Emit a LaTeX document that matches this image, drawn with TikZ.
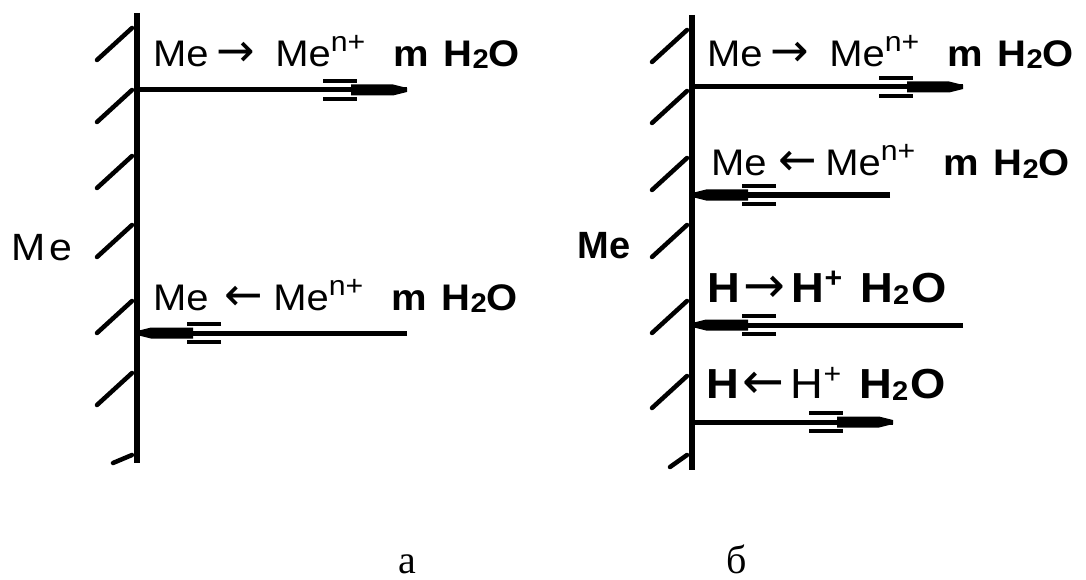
\documentclass[tikz,border=0pt]{standalone}
\usepackage{fontspec}
\setmainfont{Liberation Sans}
\newfontfamily\labfont[FakeStretch=1.08]{Liberation Sans}
\newfontfamily\arrfont{DejaVu Sans}
\newfontfamily\capfont{Liberation Serif}
\usetikzlibrary{decorations.markings}

\newcommand{\rarr}[1]{{\arrfont\fontsize{#1}{#1}\selectfont →}}
\newcommand{\larr}[1]{{\arrfont\fontsize{#1}{#1}\selectfont ←}}
\newcommand{\ion}[1]{\raisebox{15pt}{\fontsize{28}{28}\selectfont #1}}
\newcommand{\two}{\raisebox{-2pt}{\fontsize{27}{27}\selectfont 2}}
\newcommand{\wat}{\textbf{m}\hspace{15pt}\textbf{H\two O}}

\tikzset{
  wall/.style={line width=6pt},
  hatch/.style={line width=4.5pt, line cap=round},
  flux/.style={line width=5pt, postaction={decorate, decoration={markings,
      mark=at position 1 with {
        \fill (-56pt,5.5pt) -- (-14pt,5.5pt) -- (0pt,2pt) -- (0pt,-2pt) -- (-14pt,-5.5pt) -- (-56pt,-5.5pt) -- cycle;
        \draw[line width=3.5pt] (-84pt,9pt) -- (-50pt,9pt);
        \draw[line width=3.5pt] (-84pt,-9pt) -- (-50pt,-9pt);}}}},
  eqn/.style={anchor=base west, inner sep=0pt, font=\labfont\fontsize{37}{40}\selectfont},
  heqn/.style={eqn, font=\labfont\fontsize{42}{44}\selectfont},
  subcap/.style={anchor=base, inner sep=0pt, font=\capfont\fontsize{40}{42}\selectfont}
}

\begin{document}
\begin{tikzpicture}[x=1pt, y=-1pt]
    \useasboundingbox (0,0) rectangle (1086,580);

    % panel a
    \draw[wall] (137,13) -- (137,463);
    \foreach \yb in {60,122,188,257,333,405}
        \draw[hatch] (97,\yb) -- (132,\yb-32);
    \draw[hatch] (113,463) -- (132,455);
    \node[anchor=base, inner sep=0pt, font=\labfont\fontsize{38}{40}\selectfont] (meA) at (42,260) {M\hspace{3pt}e};

    \coordinate (a1s) at (137,90);  \coordinate (a1e) at (407,90);
    \coordinate (a2s) at (407,333); \coordinate (a2e) at (137,333);
    \draw[flux] (a1s) -- (a1e);
    \draw[flux] (a2s) -- (a2e);
    \node[eqn] (la1) at (153,67) {Me\hspace{8pt}\rarr{46}\hspace{20pt}Me\ion{n+}\hspace{28pt}\wat};
    \node[eqn] (la2) at (153,310) {Me\hspace{16pt}\larr{46}\hspace{10pt}Me\ion{n+}\hspace{28pt}\wat};

    % panel b
    \draw[wall] (692,15) -- (692,470);
    \foreach \yb in {62,123,190,257,333,408}
        \draw[hatch] (652,\yb) -- (687,\yb-32);
    \draw[hatch] (670,467) -- (687,455);
    \node[anchor=base, inner sep=0pt, font=\bfseries\fontsize{38}{40}\selectfont] (meB) at (604,258) {Me};

    \coordinate (b1s) at (692,87);  \coordinate (b1e) at (963,87);
    \coordinate (b2s) at (890,195); \coordinate (b2e) at (692,195);
    \coordinate (b3s) at (963,325); \coordinate (b3e) at (692,325);
    \coordinate (b4s) at (692,422); \coordinate (b4e) at (893,422);
    \draw[flux] (b1s) -- (b1e);
    \draw[flux] (b2s) -- (b2e);
    \draw[flux] (b3s) -- (b3e);
    \draw[flux] (b4s) -- (b4e);
    \node[eqn] (lb1) at (707,67) {Me\hspace{8pt}\rarr{46}\hspace{20pt}Me\ion{n+}\hspace{28pt}\wat};
    \node[eqn] (lb2) at (711,176) {Me\hspace{12pt}\larr{46}\hspace{8pt}Me\ion{n+}\hspace{28pt}\wat};
    \node[heqn] (lb3) at (707,302) {\textbf{H}\hspace{4pt}\rarr{50}\hspace{6pt}\textbf{H\ion{+}}\hspace{18pt}\textbf{H\two\hspace{2pt}O}};
    \node[heqn] (lb4) at (706,398) {\textbf{H}\hspace{4pt}\larr{50}\hspace{6pt}H\ion{+}\hspace{18pt}\textbf{H\two\hspace{2pt}O}};

    \node[subcap] (capA) at (407,573) {а};
    \node[subcap] (capB) at (737,573) {б};
\end{tikzpicture}
\end{document}
